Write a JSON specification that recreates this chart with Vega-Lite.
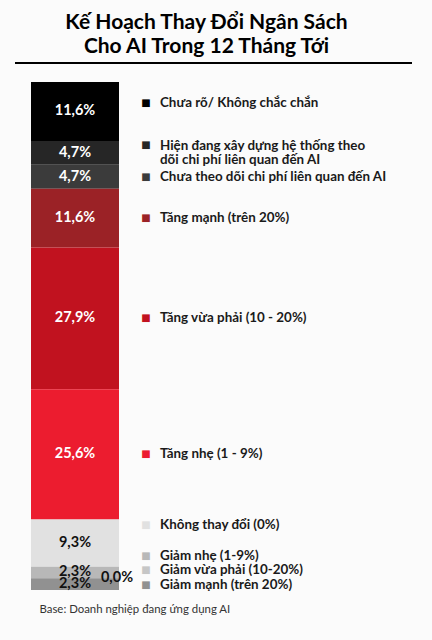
{
  "$schema": "https://vega.github.io/schema/vega-lite/v6.json",
  "width": 397,
  "height": 508,
  "autosize": "none",
  "padding": {"left": 15, "right": 20, "top": 82, "bottom": 50},
  "background": "#fbfbfb",
  "title": {
    "text": ["Kế Hoạch Thay Đổi Ngân Sách", "Cho AI Trong 12 Tháng Tới"],
    "anchor": "middle",
    "frame": "group",
    "dx": -7,
    "offset": 5,
    "font": "Lato",
    "fontSize": 21,
    "fontWeight": "bold",
    "color": "#000000",
    "lineHeight": 24
  },
  "data": {
    "values": [
      {"group": "AI", "rank": 1, "cat": "Chưa rõ/ Không chắc chắn", "pct": 11.6},
      {"group": "AI", "rank": 2, "cat": "Hiện đang xây dựng hệ thống theo\ndõi chi phí liên quan đến AI", "pct": 4.7},
      {"group": "AI", "rank": 3, "cat": "Chưa theo dõi chi phí liên quan đến AI", "pct": 4.7},
      {"group": "AI", "rank": 4, "cat": "Tăng mạnh (trên 20%)", "pct": 11.6},
      {"group": "AI", "rank": 5, "cat": "Tăng vừa phải (10 - 20%)", "pct": 27.9},
      {"group": "AI", "rank": 6, "cat": "Tăng nhẹ (1 - 9%)", "pct": 25.6},
      {"group": "AI", "rank": 7, "cat": "Không thay đổi (0%)", "pct": 9.3},
      {"group": "AI", "rank": 8, "cat": "Giảm nhẹ (1-9%)", "pct": 2.3},
      {"group": "AI", "rank": 9, "cat": "Giảm vừa phải (10-20%)", "pct": 0.0},
      {"group": "AI", "rank": 10, "cat": "Giảm mạnh (trên 20%)", "pct": 2.3}
    ]
  },
  "transform": [
    {"stack": "pct", "groupby": [], "sort": [{"field": "rank", "order": "descending"}], "as": ["y0", "y1"]},
    {"calculate": "(datum.y0 + datum.y1) / 2", "as": "mid"},
    {"calculate": "replace(format(datum.pct, '.1f'), '.', ',') + '%'", "as": "lbl"}
  ],
  "layer": [
    {
      "mark": {"type": "bar"},
      "encoding": {
        "x": {
          "field": "group",
          "type": "nominal",
          "scale": {"range": [16, 104], "paddingInner": 0, "paddingOuter": 0},
          "axis": {
            "title": "Base: Doanh nghiệp đang ứng dụng AI",
            "labels": false,
            "ticks": false,
            "domain": false,
            "titleX": 24,
            "titleY": 22,
            "titleAlign": "left",
            "titleBaseline": "alphabetic",
            "titleFont": "Lato",
            "titleFontSize": 11.4,
            "titleFontWeight": "normal",
            "titleColor": "#333333"
          }
        },
        "y": {"field": "y1", "type": "quantitative", "scale": {"domain": [0, 100], "nice": false}, "axis": null},
        "y2": {"field": "y0"},
        "color": {
          "field": "cat",
          "type": "nominal",
          "legend": null,
          "scale": {
            "domain": [
              "Chưa rõ/ Không chắc chắn",
              "Hiện đang xây dựng hệ thống theo\ndõi chi phí liên quan đến AI",
              "Chưa theo dõi chi phí liên quan đến AI",
              "Tăng mạnh (trên 20%)",
              "Tăng vừa phải (10 - 20%)",
              "Tăng nhẹ (1 - 9%)",
              "Không thay đổi (0%)",
              "Giảm nhẹ (1-9%)",
              "Giảm vừa phải (10-20%)",
              "Giảm mạnh (trên 20%)"
            ],
            "range": ["#000000", "#262626", "#3b3b3b", "#9b2226", "#c1121f", "#ec1c2f", "#e1e1e1", "#b8b8b8", "#c6c6c6", "#919191"]
          }
        }
      }
    },
    {
      "mark": {"type": "rule", "color": "#000000", "strokeWidth": 2},
      "encoding": {"y": {"datum": 103.75}}
    },
    {
      "transform": [{"filter": "datum.pct > 0"}],
      "mark": {"type": "text", "font": "Lato", "fontSize": 14.5, "fontWeight": "bold", "baseline": "middle"},
      "encoding": {
        "x": {"field": "group", "type": "nominal"},
        "y": {"field": "mid", "type": "quantitative"},
        "text": {"field": "lbl"},
        "color": {
          "condition": {"test": "datum.rank >= 7", "value": "#111111"},
          "value": "#ffffff"
        }
      }
    },
    {
      "transform": [{"filter": "datum.pct == 0"}],
      "mark": {"type": "text", "font": "Lato", "fontSize": 14.5, "fontWeight": "bold", "baseline": "middle", "dx": 42, "color": "#111111"},
      "encoding": {
        "x": {"field": "group", "type": "nominal"},
        "y": {"field": "mid", "type": "quantitative"},
        "text": {"field": "lbl"}
      }
    },
    {
      "mark": {
        "type": "text",
        "text": "■",
        "font": "DejaVu Sans",
        "fontSize": 10,
        "baseline": "middle",
        "align": "center",
        "dx": 71,
        "dy": {"expr": "datum.rank == 1 || datum.rank == 2 || datum.rank == 9 ? -8 : datum.rank == 7 ? -18 : datum.rank == 8 ? -16 : datum.rank == 10 ? 1 : 0"}
      },
      "encoding": {
        "x": {"field": "group", "type": "nominal"},
        "y": {"field": "mid", "type": "quantitative"},
        "color": {"field": "cat", "type": "nominal"}
      }
    },
    {
      "mark": {
        "type": "text",
        "align": "left",
        "baseline": "middle",
        "font": "Lato",
        "fontSize": 13.4,
        "fontWeight": "bold",
        "color": "#1a1a1a",
        "lineBreak": "\n",
        "lineHeight": 14,
        "dx": 85,
        "dy": {"expr": "datum.rank == 1 || datum.rank == 9 ? -8 : datum.rank == 2 ? -7 : datum.rank == 7 ? -18 : datum.rank == 8 ? -16 : datum.rank == 10 ? 1 : 0"}
      },
      "encoding": {
        "x": {"field": "group", "type": "nominal"},
        "y": {"field": "mid", "type": "quantitative"},
        "text": {"field": "cat"}
      }
    }
  ],
  "config": {"view": {"stroke": null}}
}
